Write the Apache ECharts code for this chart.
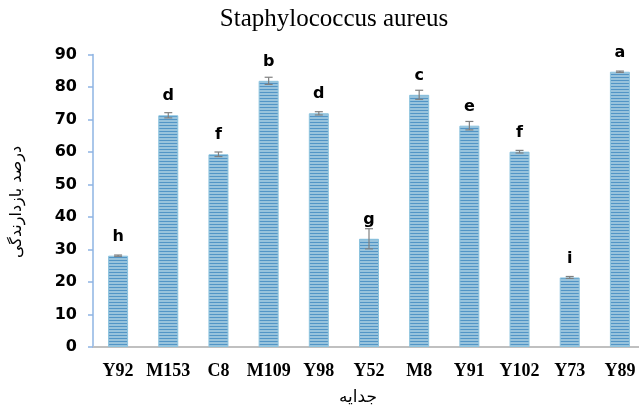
<!DOCTYPE html>
<html>
<head>
<meta charset="utf-8">
<script src="https://cdn.jsdelivr.net/npm/echarts@6/dist/echarts.min.js"></script>
<style>
  html, body { margin: 0; padding: 0; background: #fff; }
  #chart { width: 639px; height: 411px; }
</style>
</head>
<body>
<div id="chart"></div>
<script>
// Isolates tested against Staphylococcus aureus
const isolates = ['Y92', 'M153', 'C8', 'M109', 'Y98', 'Y52', 'M8', 'Y91', 'Y102', 'Y73', 'Y89'];
// Mean inhibition percentage
const inhibition = [28.1, 71.3, 59.3, 81.9, 71.9, 33.3, 77.6, 68.1, 60.1, 21.4, 84.7];
// Standard error (±)
const stdErr = [0.2, 0.8, 0.7, 1.1, 0.5, 3.1, 1.4, 1.3, 0.4, 0.3, 0.2];
// Significance group letters
const groups = ['h', 'd', 'f', 'b', 'd', 'g', 'c', 'e', 'f', 'i', 'a'];
const yTicks = { min: 0, max: 90, interval: 10 };

// Horizontal stripe fill for the bars
function stripePattern() {
  const c = document.createElement('canvas');
  c.width = 4; c.height = 3;
  const ctx = c.getContext('2d');
  ctx.fillStyle = '#98c3dc';
  ctx.fillRect(0, 0, 4, 3);
  ctx.fillStyle = '#5295c6';
  ctx.fillRect(0, 2, 4, 1);
  return c;
}

const chart = echarts.init(document.getElementById('chart'), null, { renderer: 'canvas' });

const errData = isolates.map((name, i) => [i, inhibition[i] - stdErr[i], inhibition[i] + stdErr[i]]);

chart.setOption({
  animation: false,
  backgroundColor: '#ffffff',
  title: {
    text: 'Staphylococcus aureus',
    left: 329, top: 2, textAlign: 'center',
    textStyle: { fontFamily: 'Liberation Serif', fontWeight: 'normal', fontSize: 25, color: '#000' }
  },
  // plot area runs a little past the right edge of the canvas
  grid: {
    left: 93, width: 552, top: 54.5, height: 292.5,
    containLabel: false, outerBoundsMode: 'none'
  },
  xAxis: {
    type: 'category',
    data: isolates,
    axisLine: { lineStyle: { color: '#c0c0c0', width: 2 } },
    axisTick: { show: false },
    axisLabel: {
      interval: 0,
      margin: 15,
      fontFamily: 'Liberation Serif', fontWeight: 'bold', fontSize: 18, color: '#000'
    }
  },
  yAxis: {
    type: 'value',
    min: yTicks.min, max: yTicks.max, interval: yTicks.interval,
    axisLine: { show: true, lineStyle: { color: '#8eb4e3', width: 1.5 } },
    axisTick: { show: true, inside: false, length: 5, lineStyle: { color: '#8eb4e3', width: 1.5 } },
    splitLine: { show: false },
    axisLabel: {
      margin: 16,
      fontFamily: 'DejaVu Sans', fontWeight: 'bold', fontSize: 16, color: '#000'
    }
  },
  graphic: [
    {
      type: 'text',
      x: 358, y: 398,
      style: {
        text: 'جدایه',
        align: 'center', verticalAlign: 'middle',
        font: '17px "DejaVu Sans"', fill: '#000'
      }
    },
    {
      type: 'text',
      x: 17, y: 202, rotation: Math.PI / 2,
      style: {
        text: 'درصد بازدارندگی',
        align: 'center', verticalAlign: 'middle',
        font: '16px "DejaVu Sans"', fill: '#000'
      }
    }
  ],
  series: [
    {
      type: 'bar',
      data: inhibition,
      barWidth: 20,
      itemStyle: {
        color: { image: stripePattern(), repeat: 'repeat' },
        borderColor: '#8cc3de',
        borderWidth: 1
      },
      label: {
        show: true,
        position: 'top',
        distance: 11,
        formatter: p => groups[p.dataIndex],
        fontFamily: 'DejaVu Sans', fontWeight: 'bold', fontSize: 16, color: '#000'
      },
      z: 2
    },
    {
      type: 'custom',
      data: errData,
      z: 3,
      renderItem: (params, api) => {
        const x = api.value(0);
        const lo = api.coord([x, api.value(1)]);
        const hi = api.coord([x, api.value(2)]);
        const cap = 4;
        const style = { stroke: '#808080', lineWidth: 1.2 };
        return {
          type: 'group',
          children: [
            { type: 'line', shape: { x1: lo[0], y1: lo[1], x2: hi[0], y2: hi[1] }, style },
            { type: 'line', shape: { x1: hi[0] - cap, y1: hi[1], x2: hi[0] + cap, y2: hi[1] }, style },
            { type: 'line', shape: { x1: lo[0] - cap, y1: lo[1], x2: lo[0] + cap, y2: lo[1] }, style }
          ]
        };
      }
    }
  ]
});
</script>
</body>
</html>
